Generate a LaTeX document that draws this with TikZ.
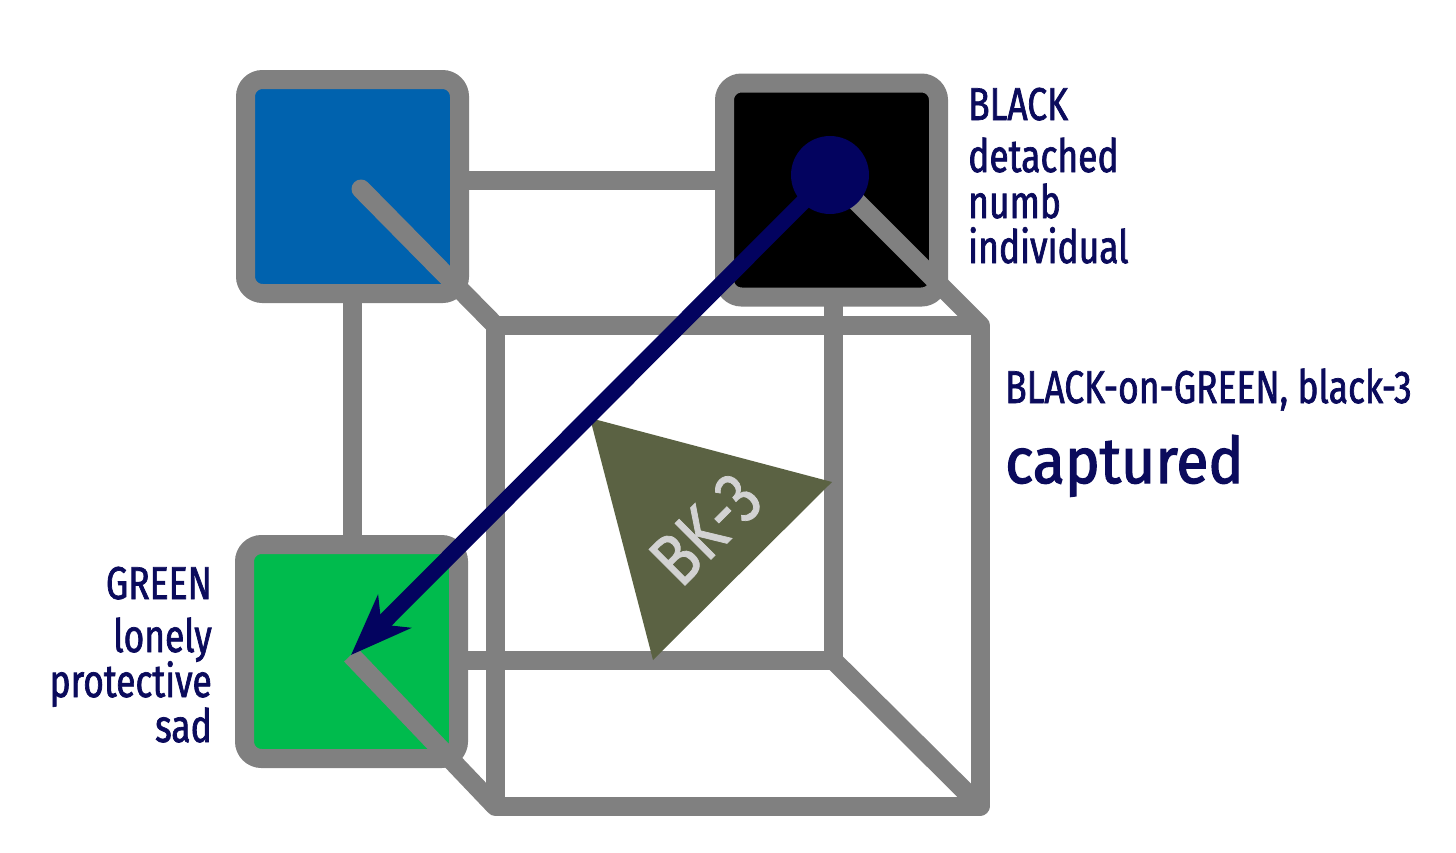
\documentclass[tikz,border=0pt]{standalone}
\usepackage{fontspec}
\usetikzlibrary{arrows.meta}
\newfontfamily\labfont[FakeStretch=0.77,FakeBold=1.5]{Fira Sans}
\newfontfamily\capfont[FakeStretch=0.92,FakeBold=2]{Fira Sans}
\newfontfamily\bkfont[FakeStretch=0.82,FakeBold=1]{Fira Sans}
\definecolor{edgegray}{HTML}{808080}
\definecolor{cubeblue}{HTML}{0062AE}
\definecolor{cubegreen}{HTML}{00BB4D}
\definecolor{navy}{HTML}{03035F}
\definecolor{textnavy}{HTML}{0B0B5C}
\definecolor{olivefill}{HTML}{5B6243}
\definecolor{bktext}{HTML}{D2D2D2}
\begin{document}
\begin{tikzpicture}[x=1pt,y=-1pt,
  edge/.style={draw=edgegray,line width=19pt,line join=round},
  colbox/.style={draw=edgegray,line width=19pt,rounded corners=17pt,shape=rectangle,minimum size=214pt,inner sep=0pt},
  lab/.style={text=textnavy,inner sep=0pt,font=\fontsize{46pt}{46pt}\labfont},
  bigcap/.style={text=textnavy,inner sep=0pt,font=\fontsize{64pt}{64pt}\capfont}
]
\useasboundingbox (0,0) rectangle (1456,852);
% cube corners
\coordinate (btl) at (352,180);
\coordinate (btr) at (833,180);
\coordinate (bbr) at (833,660);
\coordinate (bbl) at (352,660);
\coordinate (ftl) at (495,325);
\coordinate (ftr) at (980,325);
\coordinate (fbr) at (980,806);
\coordinate (fbl) at (495,806);
% back and front squares
\draw[edge] (btl) -- (btr) -- (bbr) -- (bbl) -- cycle;
\draw[edge] (ftl) -- (ftr) -- (fbr) -- (fbl) -- cycle;
\draw[edge] (bbr) -- (fbr);
% coloured boxes
\node[colbox,fill=cubeblue] (blue) at (352.5,186.5) {};
\node[colbox,fill=black] (blk) at (831.5,190) {};
\node[colbox,fill=cubegreen] (grn) at (351.5,651.5) {};
% inner points
\coordinate (bluestart) at (361,189);
\coordinate (dotc) at (830,175);
\coordinate (greentip) at (351,655);
% diagonals
\draw[edge,line cap=round] (bluestart) -- (ftl);
\draw[edge] (dotc) -- (ftr);
\draw[edge] (greentip) -- (fbl);
% triangle
\coordinate (t1) at (590,418);
\coordinate (t2) at (832,482);
\coordinate (t3) at (653,660);
\fill[olivefill] (t1) -- (t2) -- (t3) -- cycle;
\node[rotate=45,text=bktext,inner sep=0pt,font=\fontsize{74pt}{74pt}\bkfont] (bk) at (706,529) {BK-3};
% arrow
\draw[navy,line width=16pt,-{Stealth[length=61pt,width=46pt,inset=18pt]}] (dotc) -- (greentip);
\node[circle,fill=navy,minimum size=78pt,inner sep=0pt] (dot) at (dotc) {};
% labels
\node[lab,anchor=base west] (bl1) at (968,120) {BLACK};
\node[lab,anchor=base west] (bl2) at (968,172) {detached};
\node[lab,anchor=base west] (bl3) at (968,218) {numb};
\node[lab,anchor=base west] (bl4) at (968,263) {individual};
\node[lab,anchor=base west] (mid1) at (1005,403) {BLACK-on-GREEN, black-3};
\node[bigcap,anchor=base west] (mid2) at (1005,483) {captured};
\node[lab,anchor=base east] (gr1) at (212,599) {GREEN};
\node[lab,anchor=base east] (gr2) at (212,652) {lonely};
\node[lab,anchor=base east] (gr3) at (212,697) {protective};
\node[lab,anchor=base east] (gr4) at (212,742) {sad};
\end{tikzpicture}
\end{document}
